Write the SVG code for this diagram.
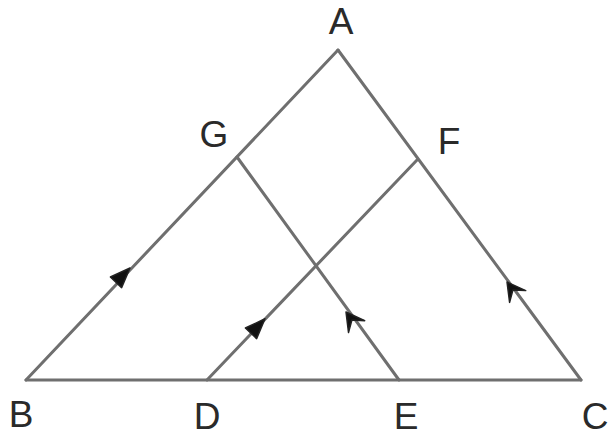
<svg xmlns="http://www.w3.org/2000/svg" width="610" height="441" viewBox="0 0 610 441">
<style>
.ln{stroke:#6f6f6f;stroke-width:3;fill:none;stroke-linecap:round}
.lbl{font-family:"Liberation Sans",Arial,sans-serif;font-size:37px;fill:#2a2a2a;text-anchor:middle}
.ar{fill:#111;stroke:#222;stroke-width:1.5;stroke-linejoin:round}
</style>
<rect width="610" height="441" fill="#fff"/>
<g id="connectors">
<line class="ln" x1="338" y1="50" x2="26" y2="380"/>
<line class="ln" x1="338" y1="50" x2="581" y2="380"/>
<line class="ln" x1="26" y1="380" x2="581" y2="380"/>
<line class="ln" x1="237" y1="157" x2="399" y2="380"/>
<line class="ln" x1="417" y1="160" x2="207" y2="380"/>
</g>
<g id="arrow-AB"><polygon class="ar" points="130,268 121.6,287.6 110.4,277"/></g>
<g id="arrow-DF"><polygon class="ar" points="265,318.8 256.6,338.6 245.4,328"/></g>
<g id="arrow-GE"><polygon class="ar" points="346,312 364.7,320.7 351.9,320.1 348.5,332.5"/></g>
<g id="arrow-AC"><polygon class="ar" points="507,282 525.7,290.6 512.9,290.1 509.6,302.4"/></g>
<g id="node-A"><text class="lbl" x="341" y="34">A</text></g>
<g id="node-G"><text class="lbl" x="214" y="147">G</text></g>
<g id="node-F"><text class="lbl" x="449" y="154">F</text></g>
<g id="node-B"><text class="lbl" x="21" y="427">B</text></g>
<g id="node-D"><text class="lbl" x="207" y="429">D</text></g>
<g id="node-E"><text class="lbl" x="406" y="429">E</text></g>
<g id="node-C"><text class="lbl" x="595" y="429">C</text></g>
</svg>
